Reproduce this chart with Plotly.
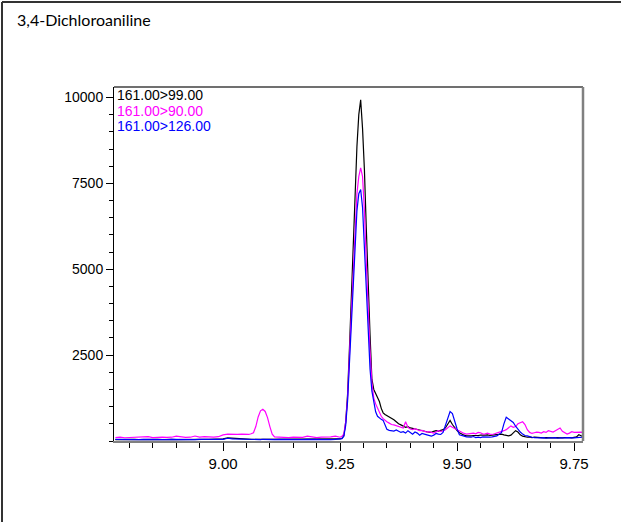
import plotly.graph_objects as go

# ---------------- data (retention time in min, intensity in counts) ----------------
rt = [
    8.77, 8.78, 8.79, 8.80, 8.81, 8.82, 8.83, 8.84, 8.85, 8.86,
    8.87, 8.88, 8.89, 8.90, 8.91, 8.92, 8.93, 8.94, 8.95, 8.96,
    8.97, 8.98, 8.99, 9.00, 9.01, 9.02, 9.03, 9.04, 9.05,
    9.055, 9.060, 9.065, 9.070, 9.075, 9.080, 9.085, 9.090, 9.095, 9.100, 9.105, 9.110,
    9.12, 9.13, 9.14, 9.15, 9.16, 9.17, 9.18, 9.19, 9.20, 9.21, 9.22, 9.23, 9.24,
    9.250, 9.254, 9.258, 9.262, 9.266, 9.270, 9.274, 9.278, 9.282, 9.286,
    9.290, 9.294, 9.298, 9.302, 9.306, 9.310, 9.314, 9.318, 9.322, 9.326,
    9.330, 9.334, 9.338, 9.342, 9.346, 9.350, 9.355, 9.360,
    9.365, 9.370, 9.375, 9.380, 9.385, 9.390, 9.395, 9.400, 9.405, 9.410,
    9.415, 9.420, 9.425, 9.430, 9.435, 9.440, 9.445, 9.450, 9.455, 9.460,
    9.465, 9.470, 9.475, 9.480, 9.485, 9.490, 9.495, 9.500, 9.505, 9.510,
    9.515, 9.520, 9.525, 9.530, 9.535, 9.540, 9.545, 9.550, 9.555, 9.560,
    9.565, 9.570, 9.575, 9.580, 9.585, 9.590, 9.595, 9.600, 9.605, 9.610,
    9.615, 9.620, 9.625, 9.630, 9.635, 9.640, 9.645, 9.650, 9.655, 9.660,
    9.665, 9.670, 9.675, 9.680, 9.685, 9.690, 9.695, 9.700, 9.705, 9.710,
    9.715, 9.720, 9.725, 9.730, 9.735, 9.740, 9.745, 9.750, 9.755, 9.760,
    9.765, 9.770,
]

mrm_99 = [  # 161.00>99.00 (black)
    40, 45, 40, 50, 45, 40, 45, 50, 40, 45,
    40, 50, 45, 40, 45, 50, 45, 40, 45, 50,
    45, 50, 55, 60, 90, 85, 75, 80, 65,
    60, 50, 45, 45, 40, 45, 40, 45, 40, 45, 40, 45,
    40, 45, 40, 45, 40, 45, 40, 45, 40, 45, 40, 45, 50,
    60, 80, 150, 550, 1350, 2700, 4150, 5800, 7400, 8570,
    9500, 9930, 9100, 7900, 6200, 4400, 3100, 1800, 1500, 1380,
    1280, 1150, 950, 820, 770, 740, 700, 640,
    620, 560, 500, 470, 430, 400, 420, 380, 370, 350,
    340, 330, 310, 290, 270, 260, 250, 280, 300, 290,
    300, 330, 380, 500, 600, 480, 380, 300, 240, 200,
    170, 150, 140, 150, 160, 150, 160, 170, 160, 170,
    180, 160, 170, 180, 170, 180, 200, 180, 160, 150,
    170, 240, 300, 260, 180, 140, 120, 110, 120, 100,
    110, 100, 90, 100, 90, 100, 90, 100, 90, 100,
    90, 100, 90, 100, 110, 100, 90, 100, 120, 180,
    150, 120,
]

mrm_90 = [  # 161.00>90.00 (magenta)
    100, 110, 95, 100, 120, 110, 130, 125, 100, 110,
    115, 105, 110, 140, 120, 105, 110, 145, 115, 130,
    120, 110, 125, 180, 200, 190, 190, 200, 180,
    190, 210, 240, 420, 700, 880, 925, 860, 680, 420, 200, 120,
    110, 120, 100, 115, 110, 105, 140, 110, 100, 115, 110, 120, 140,
    110, 140, 200, 550, 1250, 2500, 3700, 5000, 6300, 7200,
    7700, 7950, 7700, 6700, 5200, 3800, 2600, 1700, 1250, 1080,
    950, 820, 720, 650, 600, 560, 520, 480,
    470, 450, 430, 400, 380, 560, 400, 350, 330, 360,
    320, 300, 310, 280, 260, 270, 250, 230, 260, 300,
    280, 290, 330, 390, 440, 400, 360, 320, 280, 250,
    220, 200, 210, 240, 230, 210, 250, 240, 200, 210,
    230, 200, 190, 210, 230, 240, 280, 300, 330, 380,
    440, 400, 420, 500, 540, 560, 480, 330, 250, 220,
    240, 260, 250, 230, 270, 250, 300, 270, 260, 300,
    330, 380, 280, 250, 200, 230, 270, 250, 260, 250,
    260, 250,
]

mrm_126 = [  # 161.00>126.00 (blue)
    45, 40, 45, 40, 45, 40, 45, 40, 45, 40,
    45, 40, 45, 40, 45, 40, 45, 40, 45, 40,
    45, 40, 45, 50, 80, 60, 55, 50, 50,
    50, 45, 40, 50, 45, 40, 50, 45, 40, 45, 50, 40,
    45, 40, 45, 40, 45, 40, 45, 40, 45, 40, 45, 40, 50,
    50, 70, 140, 450, 1150, 2300, 3500, 4700, 5900, 6700,
    7200, 7320, 6800, 5700, 4300, 3100, 2100, 1450, 1150, 850,
    720, 660, 630, 600, 450, 340, 310, 290,
    290, 320, 280, 250, 270, 230, 300, 250, 200, 260,
    230, 170, 220, 200, 180, 150, 140, 170, 220, 200,
    190, 250, 450, 650, 860, 800, 550, 350, 180, 150,
    140, 120, 110, 110, 130, 100, 110, 100, 120, 110,
    100, 110, 120, 140, 150, 200, 250, 500, 690, 640,
    600, 540, 430, 340, 260, 200, 160, 150, 120, 110,
    100, 90, 100, 90, 100, 80, 90, 80, 90, 100,
    80, 90, 80, 90, 100, 90, 80, 90, 100, 110,
    100, 110,
]

series_names = ["161.00>99.00", "161.00>90.00", "161.00>126.00"]
series_colors = ["#000000", "#ff00ff", "#0000ff"]
title_text = "3,4-Dichloroaniline"

# ---------------- figure ----------------
W, H = 621, 522
L, R, T, B = 114, 583, 87, 441          # plot area in pixels
PW, PH = R - L, B - T

def px(x):
    return (x - L) / PW

def py(y):
    return (B - y) / PH

fig = go.Figure()
for vals, name, col in zip([mrm_99, mrm_90, mrm_126], series_names, series_colors):
    fig.add_trace(go.Scatter(x=rt, y=vals, mode="lines", name=name,
                             line=dict(color=col, width=1.2)))

fig.update_layout(
    width=W, height=H,
    margin=dict(l=L, r=W - R, t=T, b=H - B, pad=0),
    paper_bgcolor="white", plot_bgcolor="white",
    showlegend=False,
    font=dict(family="Liberation Sans, Arial, sans-serif", color="black"),
)

fig.update_xaxes(
    range=[8.767, 9.769], showgrid=False, zeroline=False,
    showline=True, linecolor="#808080", linewidth=1.5,
    tickmode="linear", tick0=9.0, dtick=0.25, tickformat=".2f",
    ticks="outside", ticklen=8, tickwidth=1, tickcolor="black",
    tickfont=dict(size=15, family="Liberation Sans, Arial, sans-serif"),
    minor=dict(dtick=0.05, tick0=9.0, ticks="outside", ticklen=5,
               tickwidth=1, tickcolor="black", showgrid=False),
)
fig.update_yaxes(
    range=[0, 10305], showgrid=False, zeroline=False,
    showline=True, linecolor="black", linewidth=1,
    tickmode="array", tickvals=[2500, 5000, 7500, 10000],
    ticktext=["2500", "5000", "7500", "10000"],
    ticks="outside", ticklen=7, tickwidth=1, tickcolor="black",
    tickfont=dict(size=14, family="Liberation Sans, Arial, sans-serif"),
    minor=dict(dtick=500, tick0=0, ticks="outside", ticklen=4,
               tickwidth=1, tickcolor="black", showgrid=False),
)

# plot frame: top (dark) and right (gray)
fig.add_shape(type="line", xref="paper", yref="paper", x0=0, x1=1, y0=1, y1=1,
              line=dict(color="#404040", width=1.5))
fig.add_shape(type="line", xref="paper", yref="paper", x0=1, x1=1, y0=0, y1=1,
              line=dict(color="#808080", width=2.5))

# outer panel frame (left and top edges)
fig.add_shape(type="line", xref="paper", yref="paper",
              x0=px(2), x1=px(2), y0=py(2), y1=py(H + 5),
              line=dict(color="#333333", width=2))
fig.add_shape(type="line", xref="paper", yref="paper",
              x0=px(2), x1=px(W + 5), y0=py(2), y1=py(2),
              line=dict(color="#333333", width=2))

# title
fig.add_annotation(text=title_text, xref="paper", yref="paper",
                   x=px(15), y=py(19), xanchor="left", yanchor="middle",
                   showarrow=False,
                   font=dict(family="Lato, Noto Sans, sans-serif", size=16, color="black"))

# channel labels
for name, col, ypix in zip(series_names, series_colors, [95, 111, 126]):
    fig.add_annotation(text=name, xref="paper", yref="paper",
                       x=px(115), y=py(ypix), xanchor="left", yanchor="middle",
                       showarrow=False,
                       font=dict(family="Liberation Sans, Arial, sans-serif", size=14, color=col))

fig.write_html("out.html", config={"displayModeBar": False},
               post_script="document.body.style.margin='0px';")
